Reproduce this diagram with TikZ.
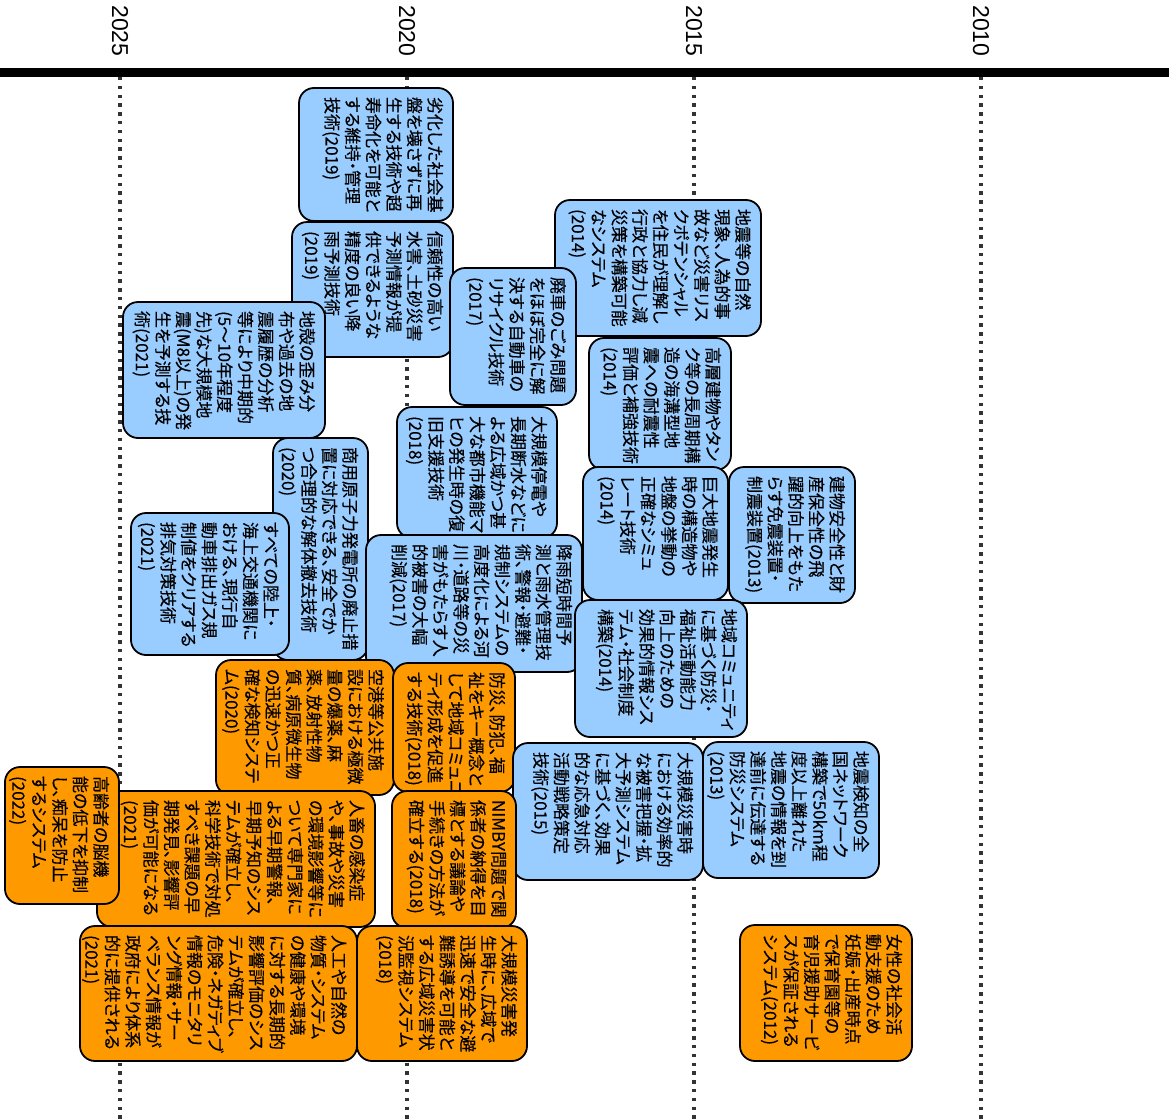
\documentclass[tikz,border=0pt]{standalone}
\usepackage{fontspec}
\usepackage{xcolor}
\usepackage{tikz}
\newfontfamily\jpfont[RawFeature=+palt,FakeBold=0.3]{Noto Sans CJK JP}
\newfontfamily\yearfont{Liberation Sans}
\definecolor{skyfill}{HTML}{99CCFF}
\definecolor{orangefill}{HTML}{FF9900}
% box of page width #1 and page height #2, text kept at its top corner
\newcommand{\card}[3]{\parbox[c][\dimexpr#1pt-12pt\relax][t]{\dimexpr#2pt-18pt\relax}{\vspace*{4pt}#3}}

\begin{document}
\begin{tikzpicture}[
    x=1pt,y=-1pt,
    item/.style={draw,line width=1.8pt,rounded corners=15pt,rotate=-90,inner xsep=9pt,inner ysep=6pt,
      font=\jpfont\fontsize{17}{20.6}\selectfont},
    bluebox/.style={item,fill=skyfill},
    orangebox/.style={item,fill=orangefill},
    yearlabel/.style={rotate=-90,inner sep=0pt,font=\yearfont\fontsize{23}{26}\selectfont},
    guide/.style={line width=3.3pt,black!80,dash pattern=on 3.3pt off 5.5pt}
  ]
    \useasboundingbox (0,0) rectangle (1169,1119);

    \node[yearlabel] (y2025) at (120,31) {2025};
    \node[yearlabel] (y2020) at (407,31) {2020};
    \node[yearlabel] (y2015) at (694,31) {2015};
    \node[yearlabel] (y2010) at (981,31) {2010};

    \coordinate (g2025) at (120,77);
    \coordinate (g2020) at (407,77);
    \coordinate (g2015) at (694,77);
    \coordinate (g2010) at (981,77);
    \coordinate (base) at (0,1119);
    \draw[guide] (g2025) -- (g2025 |- base);
    \draw[guide] (g2020) -- (g2020 |- base);
    \draw[guide] (g2015) -- (g2015 |- base);
    \draw[guide] (g2010) -- (g2010 |- base);

    \coordinate (tl) at (0,72);
    \coordinate (tr) at (1169,72);
    \draw[line width=9pt] (tl) -- (tr);

    \node[bluebox] (decay) at (376,154.5) {\card{154}{133}
      {劣化した社会基\\盤を壊さずに再\\生する技術や超\\寿命化を可能と\\する維持・管理\\技術(2019)}};
    \node[bluebox] (rain) at (372.5,289.5) {\card{161}{135}
      {信頼性の高い\\水害、土砂災害\\予測情報が提\\供できるような\\精度の良い降\\雨予測技術\\(2019)}};
    \node[bluebox] (quake) at (224,370) {\card{202}{136}
      {地殻の歪み分\\布や過去の地\\震履歴の分析\\等により中期的\\(5～10年程度\\先)な大規模地\\震(M8以上)の発\\生を予測する技\\術(2021)}};
    \node[bluebox] (risk) at (658,268) {\card{206}{136}
      {地震等の自然\\現象、人為的事\\故など災害リス\\クポテンシャル\\を住民が理解し\\行政と協力し減\\災策を構築可能\\なシステム\\(2014)}};
    \node[bluebox] (recycle) at (513,336.5) {\card{126}{137}
      {廃車のごみ問題\\をほぼ完全に解\\決する自動車の\\リサイクル技術\\(2017)}};
    \node[bluebox] (tower) at (660,404) {\card{142}{132}
      {高層建物やタン\\ク等の長周期構\\造の海溝型地\\震への耐震性\\評価と補強技術\\(2014)}};
    \node[bluebox] (outage) at (477,472.5) {\card{160}{131}
      {大規模停電や\\長期断水などに\\よる広域かつ甚\\大な都市機能マ\\ヒの発生時の復\\旧支援技術\\(2018)}};
    \node[bluebox] (simul) at (655.5,533.5) {\card{145}{133}
      {巨大地震発生\\時の構造物や\\地盤の挙動の\\正確なシミュ\\レート技術\\(2014)}};
    \node[bluebox] (isolator) at (792,535) {\card{126}{136}
      {建物安全性と財\\産保全性の飛\\躍的向上をもた\\らす免震装置・\\制震装置(2013)}};
    \node[bluebox] (nuclear) at (320.5,549) {\card{95}{222}
      {商用原子力発電所の廃止措\\置に対応できる、安全でか\\つ合理的な解体撤去技術\\(2020)}};
    \node[bluebox] (exhaust) at (210,584) {\card{158}{142}
      {すべての陸上・\\海上交通機関に\\おける、現行自\\動車排出ガス規\\制値をクリアする\\排気対策技術\\(2021)}};
    \node[bluebox] (flood) at (474,603.5) {\card{216}{137}
      {降雨短時間予\\測と雨水管理技\\術、警報・避難・\\規制システムの\\高度化による河\\川・道路等の災\\害がもたらす人\\的被害の大幅\\削減(2017)}};
    \node[bluebox] (community) at (661,668.5) {\card{172}{137}
      {地域コミュニティ\\に基づく防災・\\福祉活動能力\\向上のための\\効果的情報シス\\テム・社会制度\\構築(2014)}};
    \node[orangebox] (airport) at (305,727.5) {\card{178}{135}
      {空港等公共施\\設における極微\\量の爆薬、麻\\薬、放射性物\\質、病原微生物\\の迅速かつ正\\確な検知システ\\ム(2020)}};
    \node[orangebox] (welfare) at (454,727.5) {\card{122}{129}
      {防災、防犯、福\\祉をキー概念と\\して地域コミュニ\\ティ形成を促進\\する技術(2018)}};
    \node[bluebox] (response) at (608,811.5) {\card{190}{137}
      {大規模災害時\\における効率的\\な被害把握・拡\\大予測システム\\に基づく、効果\\的な応急対応\\活動戦略策定\\技術(2015)}};
    \node[bluebox] (warning) at (791,810) {\card{176}{136}
      {地震検知の全\\国ネットワーク\\構築で50km程\\度以上離れた\\地震の情報を到\\達前に伝達する\\防災システム\\(2013)}};
    \node[orangebox] (epidemic) at (236,859) {\card{278}{136}
      {人畜の感染症\\や、事故や災害\\の環境影響等に\\ついて専門家に\\よる早期警報、\\早期予知のシス\\テムが確立し、\\科学技術で対処\\すべき課題の早\\期発見、影響評\\価が可能になる\\(2021)}};
    \node[orangebox] (elderly) at (62,835.5) {\card{114}{137}
      {高齢者の脳機\\能の低下を抑制\\し、痴呆を防止\\するシステム\\(2022)}};
    \node[orangebox] (nimby) at (454,859.5) {\card{124}{137}
      {NIMBY問題で関\\係者の納得を目\\標とする議論や\\手続きの方法が\\確立する(2018)}};
    \node[orangebox] (substance) at (218.5,993.5) {\card{277}{135}
      {人工や自然の\\物質・システム\\の健康や環境\\に対する長期的\\影響評価のシス\\テムが確立し、\\危険・ネガティブ\\情報のモニタリ\\ング情報・サー\\ベランス情報が\\政府により体系\\的に提供される\\(2021)}};
    \node[orangebox] (evacuate) at (442,993.5) {\card{170}{135}
      {大規模災害発\\生時に、広域で\\迅速で安全な避\\難誘導を可能と\\する広域災害状\\況監視システム\\(2018)}};
    \node[orangebox] (childcare) at (826,993) {\card{172}{136}
      {女性の社会活\\動支援のため\\妊娠・出産時点\\で保育園等の\\育児援助サービ\\スが保証される\\システム(2012)}};
\end{tikzpicture}
\end{document}
